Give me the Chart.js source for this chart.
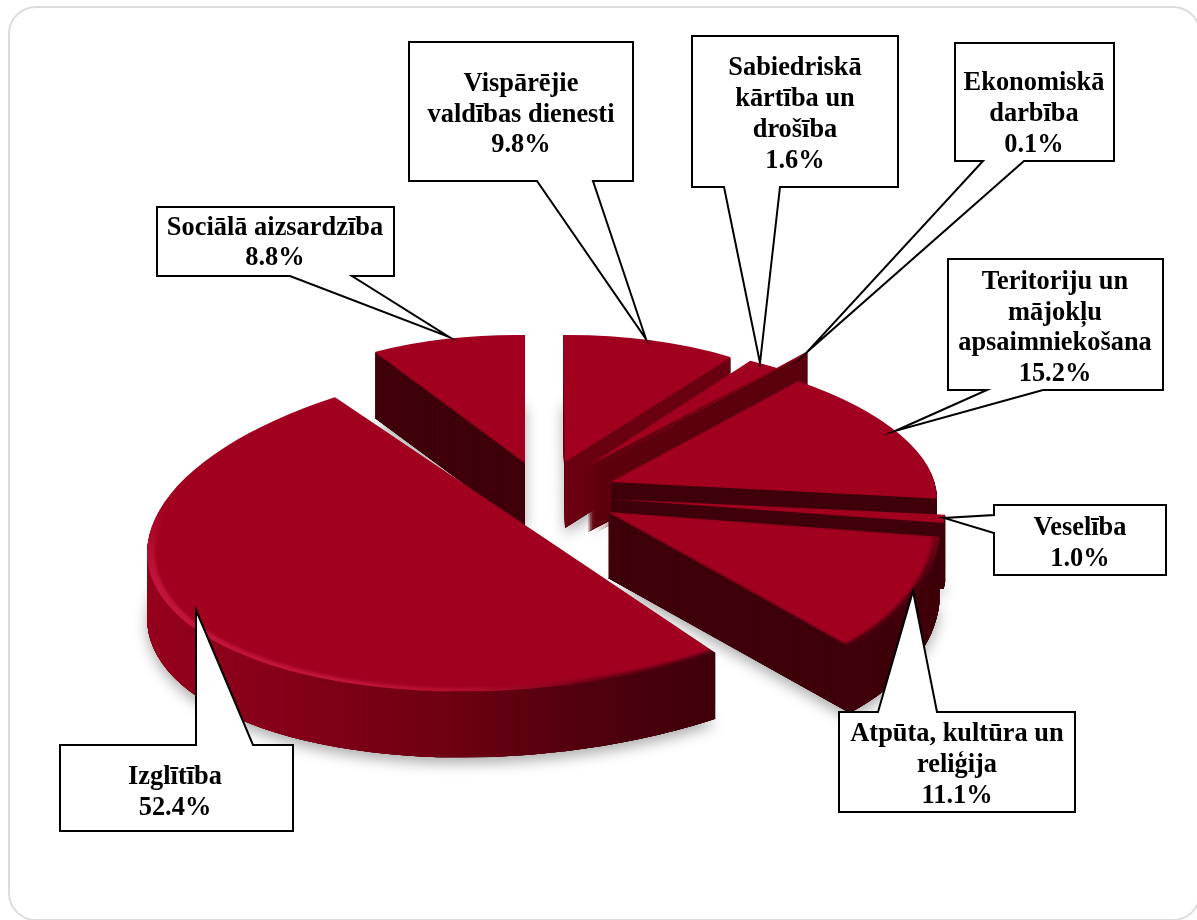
<!DOCTYPE html>
<html><head><meta charset="utf-8">
<style>
html,body{margin:0;padding:0;background:#fff;width:1197px;height:920px;overflow:hidden}
#frame{position:absolute;left:8px;top:6px;width:1193px;height:915px;box-sizing:border-box;border:2px solid #dcdcdc;border-radius:28px}
canvas{position:absolute;left:0;top:0}
</style>
<script src="https://cdn.jsdelivr.net/npm/chart.js@4"></script>
</head><body>
<div id="frame"></div>
<canvas id="c" width="1197" height="920"></canvas>
<script>
const categories = [
  ['Vispārējie','valdības dienesti'],
  ['Sabiedriskā','kārtība un','drošība'],
  ['Ekonomiskā','darbība'],
  ['Teritoriju un','mājokļu','apsaimniekošana'],
  ['Veselība'],
  ['Atpūta, kultūra un','reliģija'],
  ['Izglītība'],
  ['Sociālā aizsardzība']
];
const shares = [9.8, 1.6, 0.1, 15.2, 1.0, 11.1, 52.4, 8.8];

const TOP = '#a1001f';
const DARK = '#3f000a';
// Per-slice projection of the flat pie onto the tilted plane: [a, b, c, d, anchorX, anchorY]
const projection = [
  [290,   2,  -2, 127, 565, 462],
  [315,  24,  -7, 124, 588, 466],
  [325,   0,   0, 154, 593, 468],
  [324,  36,   2, 136, 611, 482],
  [335,  20,   2, 130, 610, 499],
  [330,  37,  -6, 182, 608, 512],
  [376, -38, -11, 166, 525, 525],
  [286,   0,   4, 128, 525, 463]
];
// Foreshortening of the cut edges of the large slice, in degrees per side
const edgeTrim = [0,0,0,0,0,0,4.3,0];
const sideFill = [
  '#6a0012', '#620010', '#5c000f', DARK, DARK, DARK,
  [[150,'#96001c'],[300,'#820018'],[450,'#6e0013'],[600,'#4e000d'],[715,DARK]],
  DARK
];
const rimFill = [
  null, null, null, null, null, [[600,DARK],[950,'#4a000e']],
  [[150,'#c2143a'],[350,'#c2143a'],[480,'#b00c2c'],[600,'#6a0012'],[715,DARK]],
  null
];
const DEPTH = 66;
const paintOrder = [7,0,1,2,3,4,5,6];

// Callout layout: box [x0,y0,x1,y1], wedge [base1, tip, base2], text centre and first line centre
const callouts = [
  {box:[409,42,633,181],  side:'bottom', wedge:[[593,181],[646,339],[537,181]], cx:521, y:84.5,  gap:30.5},
  {box:[692,36,898,187],  side:'bottom', wedge:[[780,187],[760,363],[724,187]], cx:795, y:68.5,  gap:31},
  {box:[955,43,1114,161], side:'bottom', wedge:[[1024,161],[807,352],[983,161]],cx:1034,y:83.5,  gap:31},
  {box:[948,259,1163,390],side:'bottom', wedge:[[1043,390],[895,431],[987,390]],cx:1055,y:282.5, gap:30.5},
  {box:[994,505,1166,575],side:'left',   wedge:[[994,533],[944,518],[994,515]], cx:1080,y:528.5, gap:31},
  {box:[839,712,1075,812],side:'top',    wedge:[[878,712],[913,591],[937,712]], cx:957, y:734.5, gap:31},
  {box:[60,745,293,831],  side:'top',    wedge:[[196,745],[196,610],[253,745]], cx:175, y:777.5, gap:30.5},
  {box:[157,207,394,276], side:'bottom', wedge:[[352,276],[449,337],[290,276]], cx:275, y:228.5, gap:30}
];

const W = 1197, H = 920;
function layer(){const c=document.createElement('canvas');c.width=W;c.height=H;return c;}
function applyProjection(g, arc, m, k){
  const R = arc.outerRadius, [a,b,c,d,ax,ay] = m;
  const A=a*k/R, B=b*k/R, C=c*k/R, D=d*k/R;
  g.setTransform(A, C, B, D, ax-(A*arc.x+B*arc.y), ay-(C*arc.x+D*arc.y));
}
function trimClip(g, arc, trimDeg){
  if(!trimDeg) return;
  const t=trimDeg*Math.PI/180, s=arc.startAngle+t, e=arc.endAngle-t, r=arc.outerRadius*2;
  g.beginPath(); g.moveTo(arc.x,arc.y);
  for(let n=0;n<=8;n++){const q=s+(e-s)*n/8; g.lineTo(arc.x+r*Math.cos(q),arc.y+r*Math.sin(q));}
  g.closePath(); g.clip();
}
function paintFill(g, fill){
  if (typeof fill === 'string') return fill;
  const x0=fill[0][0], x1=fill[fill.length-1][0];
  const gr = g.createLinearGradient(x0,0,x1,0);
  fill.forEach(([x,col])=>gr.addColorStop((x-x0)/(x1-x0),col));
  return gr;
}
function tinted(arc, m, fill, trim){
  const c=layer(), g=c.getContext('2d');
  g.save();
  applyProjection(g, arc, m, 1); trimClip(g, arc, trim); arc.draw(g);
  g.restore();
  g.globalCompositeOperation='source-in';
  g.fillStyle=paintFill(g, fill); g.fillRect(0,0,W,H);
  return c;
}
const tiltedPie = {
  id:'tiltedPie',
  beforeDatasetsDraw(chart){
    const ctx=chart.ctx, arcs=chart.getDatasetMeta(0).data;
    // soft shadows first, so they only fall on the page
    paintOrder.forEach(i=>{
      const sil=tinted(arcs[i], projection[i], '#000', edgeTrim[i]);
      ctx.save();
      ctx.shadowColor='rgba(0,0,0,0.32)'; ctx.shadowBlur=14; ctx.shadowOffsetY=6; ctx.shadowOffsetX=0;
      ctx.drawImage(sil,0,DEPTH);
      ctx.restore();
    });
    paintOrder.forEach(i=>{
      const arc=arcs[i], m=projection[i];
      const sil=tinted(arc, m, sideFill[i], edgeTrim[i]);
      for(let d=DEPTH;d>=1;d--){ for(let n=0;n<3;n++) ctx.drawImage(sil,0,d); }
      let top;
      if(rimFill[i]){
        top=tinted(arc,m,rimFill[i],edgeTrim[i]);
        const g=top.getContext('2d');
        g.save();
        g.globalCompositeOperation='source-atop';
        g.filter='blur(1.5px)';
        applyProjection(g,arc,m,0.98); arc.draw(g);
        g.restore();
        // the lit rim only shows on the front of the disc
        g.save();
        g.globalCompositeOperation='source-atop';
        const fade=g.createLinearGradient(0,500,0,580);
        fade.addColorStop(0,TOP); fade.addColorStop(1,'rgba(161,0,31,0)');
        g.fillStyle=fade; g.fillRect(0,0,W,H);
        g.restore();
      } else {
        top=tinted(arc,m,TOP,edgeTrim[i]);
      }
      ctx.drawImage(top,0,0);
    });
    return false;
  },
  afterDraw(chart){
    const ctx=chart.ctx;
    ctx.save();
    ctx.lineWidth=2; ctx.strokeStyle='#000'; ctx.fillStyle='#fff'; ctx.lineJoin='miter'; ctx.miterLimit=20;
    callouts.forEach((c,i)=>{
      const [x0,y0,x1,y1]=c.box, [p,t,q]=c.wedge;
      ctx.beginPath();
      ctx.moveTo(x0,y0);
      if(c.side==='top'){ctx.lineTo(p[0],p[1]);ctx.lineTo(t[0],t[1]);ctx.lineTo(q[0],q[1]);}
      ctx.lineTo(x1,y0);ctx.lineTo(x1,y1);
      if(c.side==='bottom'){ctx.lineTo(p[0],p[1]);ctx.lineTo(t[0],t[1]);ctx.lineTo(q[0],q[1]);}
      ctx.lineTo(x0,y1);
      if(c.side==='left'){ctx.lineTo(p[0],p[1]);ctx.lineTo(t[0],t[1]);ctx.lineTo(q[0],q[1]);}
      ctx.closePath();ctx.fill();ctx.stroke();
      const lines=[...categories[i], shares[i].toFixed(1)+'%'];
      ctx.save();
      ctx.fillStyle='#000';ctx.font='bold 26.4px "Liberation Serif"';ctx.textAlign='center';ctx.textBaseline='middle';
      lines.forEach((s,j)=>ctx.fillText(s,c.cx,c.y+j*c.gap));
      ctx.restore();
    });
    ctx.restore();
  }
};
new Chart(document.getElementById('c'),{
  type:'pie',
  data:{labels:categories,datasets:[{data:shares,backgroundColor:TOP,borderWidth:0}]},
  options:{
    responsive:false,animation:false,rotation:0,
    layout:{padding:0},
    plugins:{legend:{display:false},tooltip:{enabled:false}}
  },
  plugins:[tiltedPie]
});
</script>
</body></html>
